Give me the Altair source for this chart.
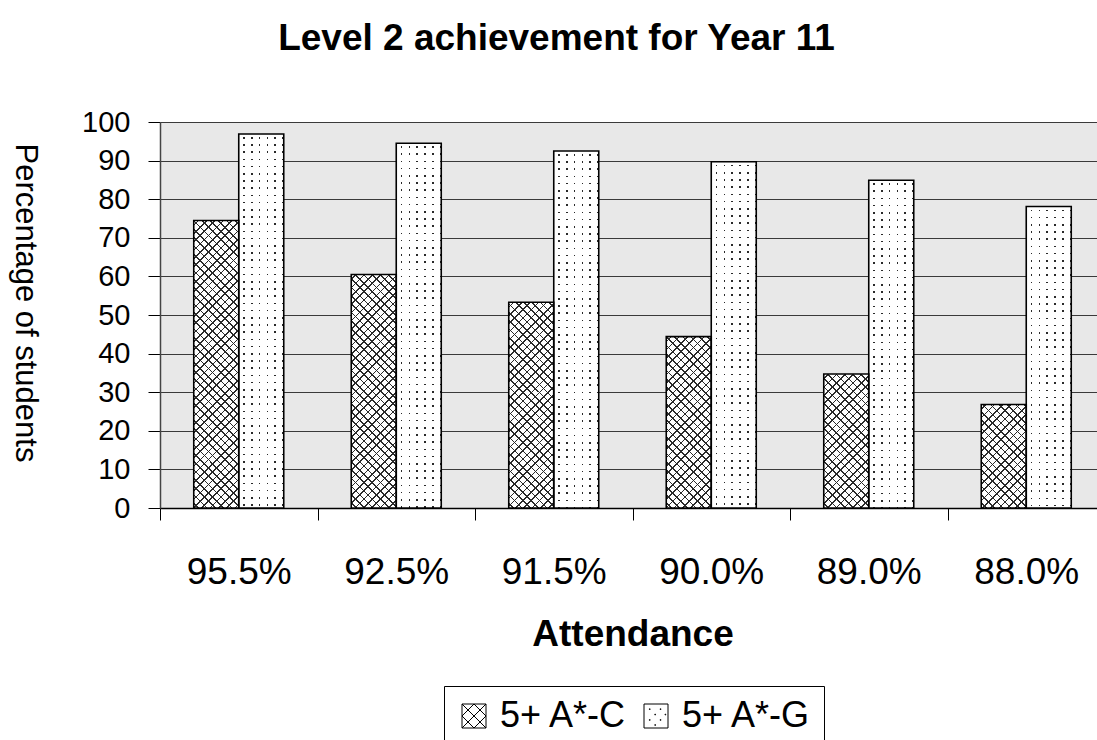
import math

import altair as alt
import pandas as pd

# ---- data -----------------------------------------------------------------
categories = ["95.5%", "92.5%", "91.5%", "90.0%", "89.0%", "88.0%"]
series = ["5+ A*-C", "5+ A*-G"]
a_to_c = [74.5, 60.5, 53.3, 44.4, 34.7, 26.8]
a_to_g = [96.9, 94.5, 92.5, 89.7, 84.9, 78.1]
y_ticks = list(range(0, 101, 10))

rows = []
for cat, c_val, g_val in zip(categories, a_to_c, a_to_g):
    rows.append({"Attendance": cat, "Series": series[0], "Value": c_val})
    rows.append({"Attendance": cat, "Series": series[1], "Value": g_val})
df = pd.DataFrame(rows)

# ---- layout / style ---------------------------------------------------------
FONT = "Liberation Sans"
PLOT_W = 937          # visible plot width
BAND_RANGE = 945      # band scale runs a little past the right edge
PLOT_H = 386
GROUP_PAD = 0.75      # outer padding of the bar pair inside each band
BAR_W = BAND_RANGE / len(categories) / (len(series) + 2 * GROUP_PAD)
PX_PER_UNIT = PLOT_H / 100

CLEAR = "rgba(255,255,255,0)"
INK = "#2a2a2a"
HATCH_PERIOD = 8.3    # horizontal spacing of the diagonal hatch lines
HATCH_LINE = 1.15
DOT_COL_PERIOD = 7.8
DOT_ROW_PERIOD = 7.2
DOT_SIZE = 1.6


def stripe_stops(length, period, start, width, ink, gap):
    """Hard-edged gradient stops that draw evenly spaced stripes."""
    stops = [{"offset": 0, "color": gap}]
    p = start
    while p < length:
        a = round(p / length, 5)
        b = round(min((p + width) / length, 1.0), 5)
        stops += [
            {"offset": a, "color": gap},
            {"offset": a, "color": ink},
            {"offset": b, "color": ink},
            {"offset": b, "color": gap},
        ]
        p += period
    stops.append({"offset": 1, "color": gap})
    return stops


def diagonal_fill(value, down):
    """45-degree stripes for a bar of the given value (bbox gradient units)."""
    h = value * PX_PER_UNIT
    w = BAR_W
    r = h / w
    k = (1 + r) / (1 + r * r)
    if down:
        x1, y1, x2, y2 = 0, 1, k, 1 - k * r
    else:
        x1, y1, x2, y2 = 0, 0, k, k * r
    length = (w + h) / math.sqrt(2)
    period = HATCH_PERIOD / math.sqrt(2)
    return {
        "gradient": "linear",
        "x1": round(x1, 5), "y1": round(y1, 5),
        "x2": round(x2, 5), "y2": round(y2, 5),
        "stops": stripe_stops(length, period, period / 2, HATCH_LINE, INK, CLEAR),
    }


def dot_columns_fill():
    return {
        "gradient": "linear", "x1": 0, "y1": 0, "x2": 1, "y2": 0,
        "stops": stripe_stops(BAR_W, DOT_COL_PERIOD, 4.5, DOT_SIZE, INK, "white"),
    }


def dot_rows_mask(value):
    h = value * PX_PER_UNIT
    return {
        "gradient": "linear", "x1": 0, "y1": 0, "x2": 0, "y2": 1,
        "stops": stripe_stops(h, DOT_ROW_PERIOD, 3.0, DOT_SIZE, CLEAR, "white"),
    }


# ---- encodings --------------------------------------------------------------
x_axis = alt.Axis(
    title="Attendance",
    labelAngle=0,
    tickBand="extent",
    tickSize=12,
    tickColor="black",
    tickWidth=1,
    domainColor="black",
    domainWidth=1.5,
    labelFont=FONT,
    labelFontSize=37,
    labelColor="black",
    labelPadding=34,
    titleFont=FONT,
    titleFontSize=37,
    titleFontWeight="bold",
    titleColor="black",
    titleX=BAND_RANGE / 2,
    titleY=137,
    titleAlign="center",
    titleBaseline="alphabetic",
    grid=False,
)
y_axis = alt.Axis(
    title="Percentage of students",
    values=y_ticks,
    grid=True,
    gridColor="#3a3a3a",
    gridWidth=1,
    domainColor="#444444",
    domainWidth=1.5,
    tickColor="black",
    tickSize=12,
    tickWidth=1,
    labelFont=FONT,
    labelFontSize=29,
    labelColor="black",
    labelPadding=18,
    titleFont=FONT,
    titleFontSize=31,
    titleFontWeight="normal",
    titleColor="black",
    titleAngle=90,
    titleX=-144.5,
    titleY=180.5,
    titleAlign="center",
    titleBaseline="alphabetic",
)

x_enc = alt.X(
    "Attendance:N",
    scale=alt.Scale(domain=categories, range=[0, BAND_RANGE], paddingInner=0, paddingOuter=0),
    axis=x_axis,
)
xo_enc = alt.XOffset(
    "Series:N",
    scale=alt.Scale(domain=series, paddingInner=0, paddingOuter=GROUP_PAD),
)
y_enc = alt.Y("Value:Q", scale=alt.Scale(domain=[0, 100], nice=False), axis=y_axis)

base = alt.Chart(df).encode(x=x_enc, xOffset=xo_enc, y=y_enc)

layers = []

# cross-hatched bars: white ground plus two sets of diagonal lines
layers.append(
    base.transform_filter(alt.datum.Series == series[0]).mark_bar(fill="white", strokeWidth=0)
)
for cat, val in zip(categories, a_to_c):
    one = base.transform_filter((alt.datum.Series == series[0]) & (alt.datum.Attendance == cat))
    layers.append(one.mark_bar(fill=diagonal_fill(val, True), strokeWidth=0))
    layers.append(one.mark_bar(fill=diagonal_fill(val, False), strokeWidth=0))

# dotted bars: dark columns masked by white rows leave a grid of dots
layers.append(
    base.transform_filter(alt.datum.Series == series[1]).mark_bar(fill=dot_columns_fill(), strokeWidth=0)
)
for cat, val in zip(categories, a_to_g):
    one = base.transform_filter((alt.datum.Series == series[1]) & (alt.datum.Attendance == cat))
    layers.append(one.mark_bar(fill=dot_rows_mask(val), strokeWidth=0))

# bar outlines
layers.append(base.mark_bar(fillOpacity=0, stroke="black", strokeWidth=1.6))

# legend, drawn from a patterned symbol per series
hatch_symbol = "M-1,-1H1V1H-1Z M-1,-1L1,1 M1,-1L-1,1 M0,-1L1,0L0,1L-1,0Z"
dot_spots = [(-0.55, -0.6), (0.35, -0.6), (-0.1, -0.15), (-0.55, 0.3), (0.35, 0.3), (-0.1, 0.72), (0.75, -0.15)]
dot_symbol = "M-1,-1H1V1H-1Z " + " ".join(
    f"M{x:.2f},{y:.2f}h0.06v0.06h-0.06Z" for x, y in dot_spots
)
legend_layer = (
    base.transform_filter("false")
    .mark_point(color="black", filled=False)
    .encode(
        shape=alt.Shape(
            "Series:N",
            scale=alt.Scale(domain=series, range=[hatch_symbol, dot_symbol]),
            legend=alt.Legend(
                title=None,
                orient="none",
                legendX=284,
                legendY=564,
                direction="horizontal",
                symbolSize=576,
                symbolStrokeWidth=1,
                symbolStrokeColor="black",
                symbolFillColor="white",
                symbolOpacity=1,
                labelFont=FONT,
                labelFontSize=36,
                labelColor="black",
                labelOffset=8,
                columnPadding=10,
                padding=12,
                strokeColor="black",
                fillColor="white",
            ),
        )
    )
)
layers.append(legend_layer)

chart = (
    alt.layer(*layers)
    .properties(
        width=PLOT_W,
        height=PLOT_H,
        title=alt.TitleParams(
            "Level 2 achievement for Year 11",
            font=FONT,
            fontSize=37,
            fontWeight="bold",
            color="black",
            anchor="middle",
            frame="group",
            dx=-72,
            offset=21,
            baseline="alphabetic",
        ),
        autosize=alt.AutoSizeParams(type="none"),
        padding={"left": 160, "top": 122, "right": 0, "bottom": 232},
    )
    .configure(background="white")
    .configure_view(fill="#e8e8e8", stroke=None)
)

chart.save("out.html", embed_options={"renderer": "svg", "actions": False})
